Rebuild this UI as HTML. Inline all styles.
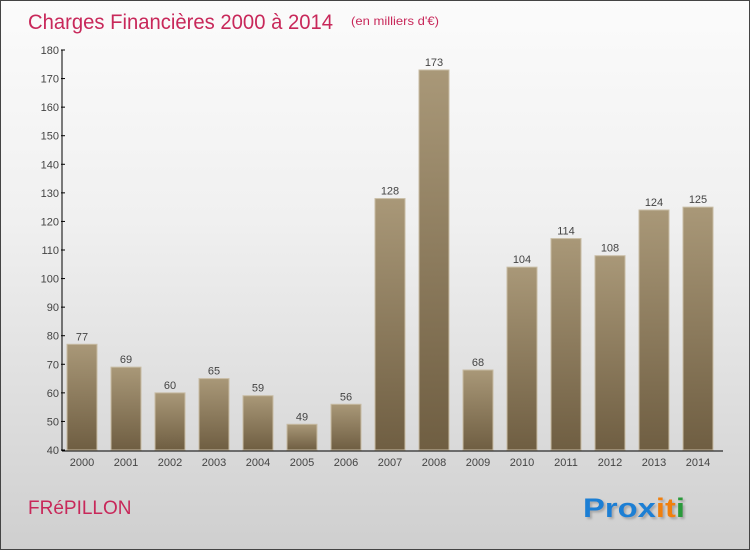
<!DOCTYPE html>
<html><head><meta charset="utf-8"><style>
body{margin:0}
#c{width:748px;height:548px;border:1px solid #444;background:linear-gradient(#fbfbfb,#f0f0f0 40%,#cfcfcf);position:relative;font-family:"Liberation Sans",sans-serif;overflow:hidden}
</style></head><body>
<div id="c">
<svg width="748" height="548" id="s">
<defs><linearGradient id="g" x1="0" y1="0" x2="0" y2="1"><stop offset="0" stop-color="#a99878"/><stop offset="1" stop-color="#6f5e42"/></linearGradient>
<filter id="sh"><feDropShadow dx="2" dy="2" stdDeviation="1" flood-color="#888" flood-opacity="0.6"/></filter></defs>
<text x="27" y="28" font-size="21" fill="#c8285a" textLength="305" lengthAdjust="spacingAndGlyphs">Charges Financières 2000 à 2014</text>
<text x="350" y="24" font-size="12" fill="#c8285a" textLength="88" lengthAdjust="spacingAndGlyphs">(en milliers d'€)</text>
<text x="27" y="513" font-size="19" fill="#c8285a">FRéPILLON</text>
<text x="582" y="516" font-size="27" font-weight="bold" filter="url(#sh)" textLength="102" lengthAdjust="spacingAndGlyphs"><tspan fill="#1a7fd4">Prox</tspan><tspan fill="#f08010">it</tspan><tspan fill="#2a9a3a">i</tspan></text>
<g id="plot"></g>
</svg></div>
<script>
const categories=["2000","2001","2002","2003","2004","2005","2006","2007","2008","2009","2010","2011","2012","2013","2014"];
const values=[77,69,60,65,59,49,56,128,173,68,104,114,108,124,125];
const ticks=[40,50,60,70,80,90,100,110,120,130,140,150,160,170,180];
const NS="http://www.w3.org/2000/svg";
const g=document.getElementById("plot");
const y0=449,y1=49,vmin=40,vmax=180;
const y=v=>y0-(v-vmin)*(y0-y1)/(vmax-vmin);
const x=i=>81+i*44;
function el(t,a,txt){const e=document.createElementNS(NS,t);for(const k in a)e.setAttribute(k,a[k]);if(txt!=null)e.textContent=txt;g.appendChild(e);return e;}
ticks.forEach(t=>{
const l=el("line",{x1:60,x2:64,y1:y(t),y2:y(t),stroke:"#000"});


const tx=el("text",{x:58,y:y(t)+4,"font-size":11,fill:"#444","text-anchor":"end"},t);


});
values.forEach((v,i)=>{
const r=el("rect",{x:x(i)-15,y:y(v),width:30,height:y0-y(v),fill:"url(#g)",stroke:"#c8bca4","stroke-width":1});


const vl=el("text",{x:x(i),y:y(v)-4,"font-size":11,fill:"#444","text-anchor":"middle"},v);


const cl=el("text",{x:x(i),y:465,"font-size":11,fill:"#444","text-anchor":"middle"},categories[i]);


});
const ya=el("line",{x1:61,x2:61,y1:y1,y2:y0+1,stroke:"#000"});


const xa=el("line",{x1:61,x2:722,y1:y0+1,y2:y0+1,stroke:"#000"});


</script>
</body></html>
